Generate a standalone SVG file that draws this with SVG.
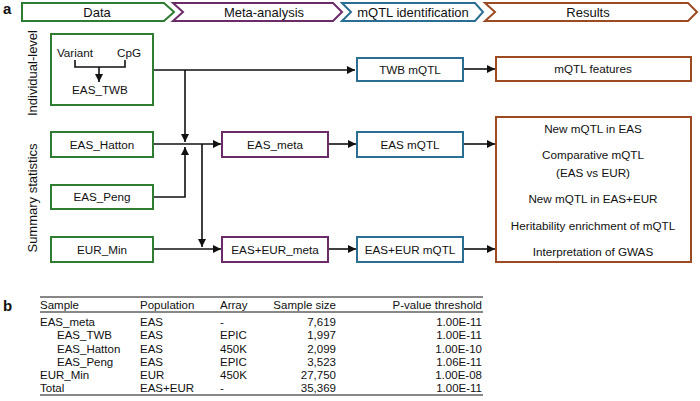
<svg xmlns="http://www.w3.org/2000/svg" width="700" height="401" viewBox="0 0 700 401">
<style>
text{font-family:"Liberation Sans",Arial,sans-serif;fill:#111}
.h{font-size:13px;text-anchor:middle}
.n{font-size:11.7px;text-anchor:middle}
.side{font-size:13px;text-anchor:middle}
.lbl{font-size:15px;font-weight:bold}
.g{fill:#fff;stroke:#2e7d32;stroke-width:2}
.p{fill:#fff;stroke:#6b2a68;stroke-width:2}
.b{fill:#fff;stroke:#2a6e93;stroke-width:2}
.r{fill:#fff;stroke:#9b4a22;stroke-width:2}
.c{fill:none;stroke:#111;stroke-width:1.6}
.t{font-size:11.5px}
.ra{text-anchor:end}
.rule{stroke:#111;stroke-width:1}
</style>
<defs>
<marker id="ah" markerUnits="userSpaceOnUse" markerWidth="9" markerHeight="8" refX="8" refY="4" orient="auto">
<path d="M0,0 L8,4 L0,8 Z" fill="#111"/>
</marker>
</defs>
<text class="lbl" x="3" y="14">a</text>
<text class="lbl" x="3" y="311">b</text>
<g id="header">
<g id="h-data"><path class="g" d="M22,3 H164 L174,12 L164,21 H22 Z"/><text class="h" x="97" y="16.5">Data</text></g>
<g id="h-meta"><path class="p" d="M173,3 H333 L342,12 L333,21 H173 L183,12 Z"/><text class="h" x="264" y="16.5">Meta-analysis</text></g>
<g id="h-mqtl"><path class="b" d="M342,3 H475 L483,12 L475,21 H342 L351,12 Z"/><text class="h" x="413" y="16.5">mQTL identification</text></g>
<g id="h-results"><path class="r" d="M485,3 H688 L697,12 L688,21 H485 L495,12 Z"/><text class="h" x="588" y="16.5">Results</text></g>
</g>
<text class="side" transform="translate(37,73) rotate(-90)">Individual-level</text>
<text class="side" transform="translate(37,198) rotate(-90)">Summary statistics</text>
<g id="connectors">
<path class="c" d="M153,70 H355" marker-end="url(#ah)"/>
<path class="c" d="M185,70 V142" marker-end="url(#ah)"/>
<path class="c" d="M153,197 H185 V147" marker-end="url(#ah)"/>
<path class="c" d="M153,144 H221" marker-end="url(#ah)"/>
<path class="c" d="M202,144 V247" marker-end="url(#ah)"/>
<path class="c" d="M153,249 H221" marker-end="url(#ah)"/>
<path class="c" d="M328,144 H356" marker-end="url(#ah)"/>
<path class="c" d="M328,249 H356" marker-end="url(#ah)"/>
<path class="c" d="M463,69 H495" marker-end="url(#ah)"/>
<path class="c" d="M463,144 H495" marker-end="url(#ah)"/>
<path class="c" d="M463,249 H495" marker-end="url(#ah)"/>
</g>
<g id="eas_twb">
<rect class="g" x="51" y="34" width="102" height="71"/>
<text class="n" x="75" y="57">Variant</text>
<text class="n" x="129" y="57">CpG</text>
<path class="c" d="M75,60 V67 H125 V60"/>
<path class="c" d="M99,67 V82" marker-end="url(#ah)"/>
<text class="n" x="100" y="94">EAS_TWB</text>
</g>
<g id="eas_hatton"><rect class="g" x="51" y="132" width="102" height="25"/><text class="n" x="102" y="148.5">EAS_Hatton</text></g>
<g id="eas_peng"><rect class="g" x="51" y="185" width="102" height="24"/><text class="n" x="102" y="201">EAS_Peng</text></g>
<g id="eur_min"><rect class="g" x="51" y="237" width="102" height="25"/><text class="n" x="102" y="253.5">EUR_Min</text></g>
<g id="eas_meta"><rect class="p" x="222" y="132" width="106" height="25"/><text class="n" x="275" y="148.5">EAS_meta</text></g>
<g id="eas_eur_meta"><rect class="p" x="222" y="237" width="106" height="25"/><text class="n" x="275" y="253.5">EAS+EUR_meta</text></g>
<g id="twb_mqtl"><rect class="b" x="357" y="58" width="106" height="23"/><text class="n" x="410" y="73.5">TWB mQTL</text></g>
<g id="eas_mqtl"><rect class="b" x="357" y="132" width="106" height="25"/><text class="n" x="410" y="148.5">EAS mQTL</text></g>
<g id="eas_eur_mqtl"><rect class="b" x="357" y="237" width="106" height="25"/><text class="n" x="410" y="253.5">EAS+EUR mQTL</text></g>
<g id="mqtl_features"><rect class="r" x="496" y="57" width="195" height="24"/><text class="n" x="593" y="73">mQTL features</text></g>
<g id="results_box">
<rect class="r" x="496" y="117" width="195" height="145"/>
<text class="n" x="593" y="133">New mQTL in EAS</text>
<text class="n" x="593" y="159">Comparative mQTL</text>
<text class="n" x="593" y="177">(EAS vs EUR)</text>
<text class="n" x="593" y="203">New mQTL in EAS+EUR</text>
<text class="n" x="593" y="230">Heritability enrichment of mQTL</text>
<text class="n" x="593" y="256">Interpretation of GWAS</text>
</g>
<g id="table">
<line class="rule" x1="40" y1="297" x2="483" y2="297"/>
<line class="rule" x1="40" y1="312" x2="483" y2="312"/>
<line class="rule" x1="40" y1="395" x2="483" y2="395"/>
<g class="t">
<text class="t" x="40" y="309">Sample</text><text class="t" x="140" y="309">Population</text><text class="t" x="220" y="309">Array</text><text class="t ra" x="336" y="309">Sample size</text><text class="t ra" x="482" y="309">P-value threshold</text>
<text class="t" x="40" y="326">EAS_meta</text><text class="t" x="140" y="326">EAS</text><text class="t" x="220" y="326">-</text><text class="t ra" x="336" y="326">7,619</text><text class="t ra" x="482" y="326">1.00E-11</text>
<text class="t" x="57" y="339">EAS_TWB</text><text class="t" x="140" y="339">EAS</text><text class="t" x="220" y="339">EPIC</text><text class="t ra" x="336" y="339">1,997</text><text class="t ra" x="482" y="339">1.00E-11</text>
<text class="t" x="57" y="352.5">EAS_Hatton</text><text class="t" x="140" y="352.5">EAS</text><text class="t" x="220" y="352.5">450K</text><text class="t ra" x="336" y="352.5">2,099</text><text class="t ra" x="482" y="352.5">1.00E-10</text>
<text class="t" x="57" y="366">EAS_Peng</text><text class="t" x="140" y="366">EAS</text><text class="t" x="220" y="366">EPIC</text><text class="t ra" x="336" y="366">3,523</text><text class="t ra" x="482" y="366">1.06E-11</text>
<text class="t" x="40" y="379">EUR_Min</text><text class="t" x="140" y="379">EUR</text><text class="t" x="220" y="379">450K</text><text class="t ra" x="336" y="379">27,750</text><text class="t ra" x="482" y="379">1.00E-08</text>
<text class="t" x="40" y="391.5">Total</text><text class="t" x="140" y="391.5">EAS+EUR</text><text class="t" x="220" y="391.5">-</text><text class="t ra" x="336" y="391.5">35,369</text><text class="t ra" x="482" y="391.5">1.00E-11</text>
</g>
</g>
</svg>
